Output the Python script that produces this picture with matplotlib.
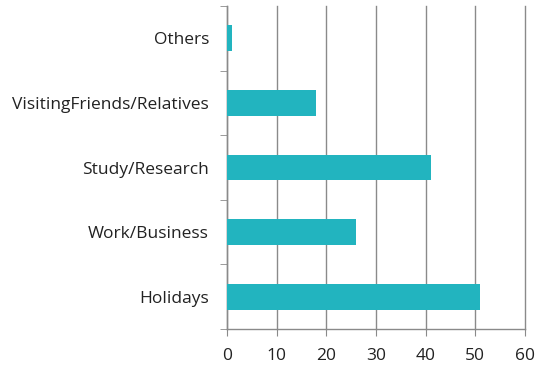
import numpy as np
import matplotlib.pyplot as plt

categories = ['Holidays', 'Work/Business', 'Study/Research',
              'VisitingFriends/Relatives', 'Others']
values = [51, 26, 41, 18, 1]
xticks = [0, 10, 20, 30, 40, 50, 60]

plt.rcParams['font.family'] = ['Open Sans', 'DejaVu Sans']

fig = plt.figure(figsize=(5.35, 3.66), dpi=100)
ax = fig.add_axes([0.4243, 0.101, 0.557, 0.8825])

pos = np.arange(len(categories))
ax.barh(pos, values, height=0.40, color='#22B4BF', zorder=3)

ax.set_xlim(0, 60)
ax.set_ylim(-0.5, len(categories) - 0.5)
ax.set_xticks(xticks)
ax.set_yticks(pos)
ax.set_yticklabels(categories)
ax.set_yticks(np.arange(-0.5, len(categories), 1.0), minor=True)

ax.xaxis.grid(True, color='#8a8a8a', linewidth=1.0, zorder=0)
for gl in ax.get_xgridlines():
    gl.set_clip_on(False)
for s in ['top', 'right']:
    ax.spines[s].set_visible(False)
for s in ['left', 'bottom']:
    ax.spines[s].set_color('#8a8a8a')
    ax.spines[s].set_linewidth(1.0)

ax.tick_params(axis='y', which='major', length=0, pad=13, labelsize=12.5, labelcolor='#222222')
ax.tick_params(axis='y', which='minor', length=5, color='#8a8a8a')
ax.tick_params(axis='x', which='major', length=5, color='#8a8a8a', labelsize=12.5,
               labelcolor='#222222', pad=9)

plt.savefig('out.png', dpi=100)
